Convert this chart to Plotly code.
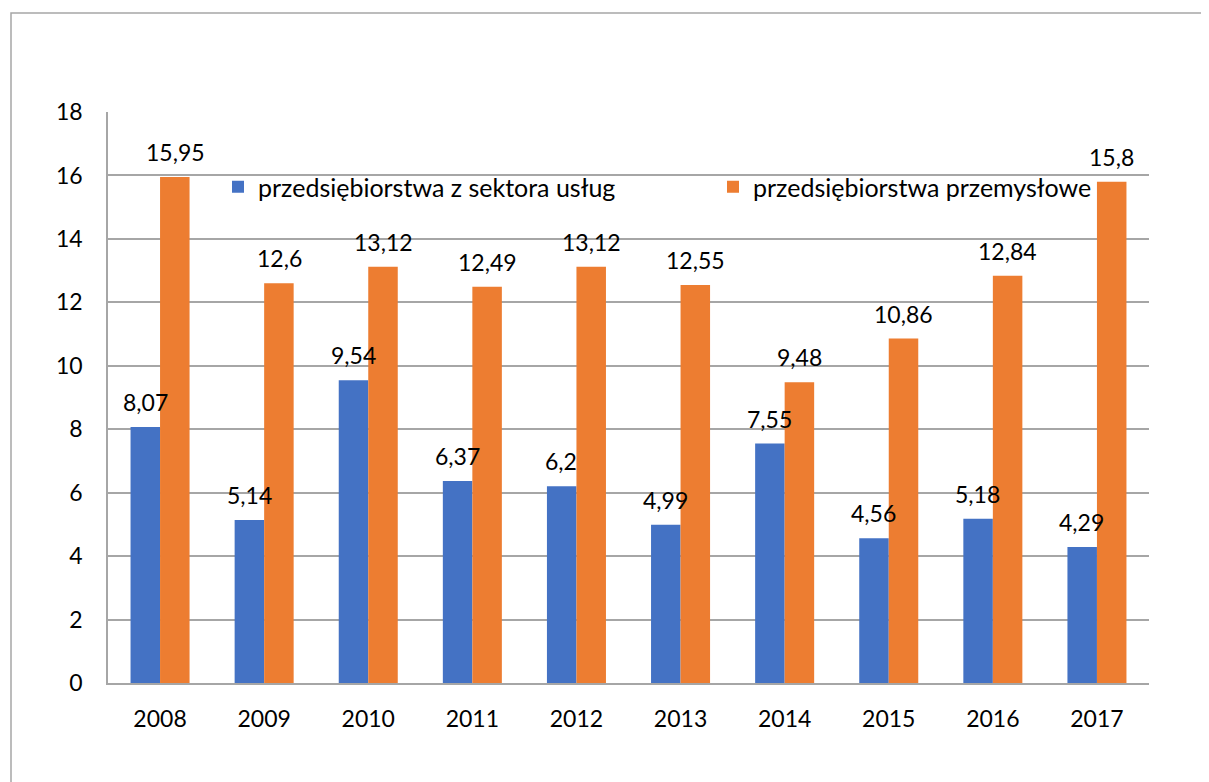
import plotly.graph_objects as go

years = ["2008", "2009", "2010", "2011", "2012", "2013", "2014", "2015", "2016", "2017"]
uslugi = [8.07, 5.14, 9.54, 6.37, 6.2, 4.99, 7.55, 4.56, 5.18, 4.29]
przemysl = [15.95, 12.6, 13.12, 12.49, 13.12, 12.55, 9.48, 10.86, 12.84, 15.8]
names = ["przedsiębiorstwa z sektora usług", "przedsiębiorstwa przemysłowe"]
colors = ["#4472C4", "#ED7D31"]

FONT = "Lato"
OFF = 8  # page body offset
W, H = 1209, 782
L, R, T, B = 108 - OFF, 1209 + OFF - 1149, 112 - OFF, 782 + OFF - 683
pw, ph = W - L - R, H - T - B

def px_x(x):
    return (x - OFF - L) / pw

def px_y(y):
    return 1 - (y - OFF - T) / ph

def fmt(v):
    return str(v).replace(".", ",")

fig = go.Figure()
for name, vals, col, lg in zip(names, [uslugi, przemysl], colors, ["legend", "legend2"]):
    fig.add_trace(go.Bar(x=years, y=vals, name=name, marker_color=col,
                         marker_line_width=0, legend=lg, showlegend=True))

annotations = []
for vals, shift in [(uslugi, -15), (przemysl, 15)]:
    for i, v in enumerate(vals):
        annotations.append(dict(x=i, y=v, xref="x", yref="y", text=fmt(v),
                                showarrow=False, yanchor="bottom", xshift=shift,
                                yshift=9, font=dict(family=FONT, size=23, color="#000")))

leg = dict(orientation="h", xanchor="left", yanchor="middle", bgcolor="rgba(0,0,0,0)",
           font=dict(family=FONT, size=25, color="#000"))

fig.update_layout(
    width=W, height=H,
    margin=dict(l=L, r=R, t=T, b=B),
    paper_bgcolor="white", plot_bgcolor="white",
    barmode="group", bargap=0.433, bargroupgap=0,
    showlegend=True,
    font=dict(family=FONT, size=23, color="#000"),
    annotations=annotations,
    legend=dict(leg, x=px_x(218), y=px_y(187)),
    legend2=dict(leg, x=px_x(713), y=px_y(187)),
    xaxis=dict(type="category", range=[-0.5, len(years) - 0.5],
               showline=True, linecolor="#a6a6a6", linewidth=1.5,
               showgrid=False, ticks="", ticklabelstandoff=15,
               tickfont=dict(family=FONT, size=23)),
    yaxis=dict(range=[0, 18], dtick=2, showline=True, linecolor="#a6a6a6", linewidth=1.5,
               showgrid=True, gridcolor="#a6a6a6", gridwidth=1.5,
               zeroline=False, ticks="", ticklabelstandoff=19,
               tickfont=dict(family=FONT, size=23)),
    shapes=[dict(type="rect", xref="paper", yref="paper",
                 x0=px_x(11), x1=px_x(1230),
                 y0=px_y(800), y1=px_y(13),
                 line=dict(color="#a6a6a6", width=1.5), fillcolor="rgba(0,0,0,0)",
                 layer="below")],
)

fig.write_html("out.html")
